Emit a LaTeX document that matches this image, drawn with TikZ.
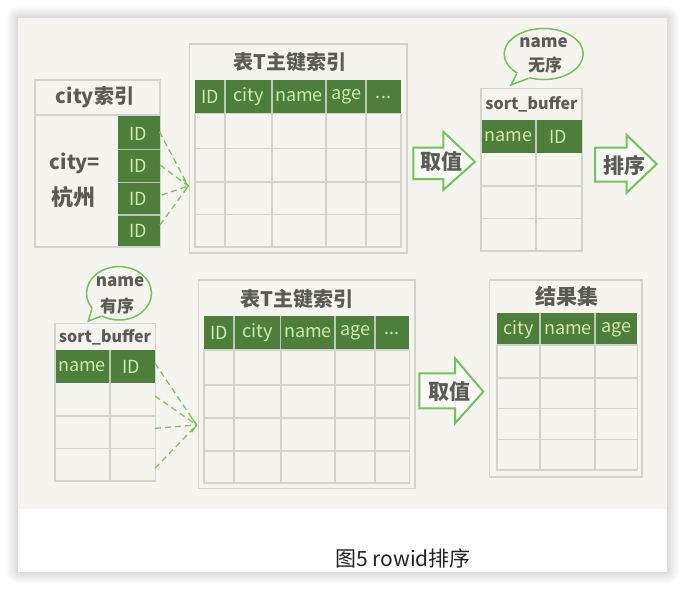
\documentclass[tikz,border=0pt]{standalone}
\usepackage{fontspec}
\setmainfont{Noto Sans CJK SC}
\usetikzlibrary{shapes.geometric,calc}
\definecolor{bg}{HTML}{F5F4EE}
\definecolor{gridc}{HTML}{D2D2CE}
\definecolor{hsepc}{HTML}{B9CDB0}
\definecolor{hdrg}{HTML}{4D7E3B}
\definecolor{hdrt}{HTML}{CDEDA8}
\definecolor{ttlc}{HTML}{5A5A56}
\definecolor{arrg}{HTML}{74C25A}
\definecolor{dashg}{HTML}{7CC55E}
\definecolor{capc}{HTML}{222222}
\begin{document}
\begin{tikzpicture}[x=0.5pt,y=-0.5pt,
  gline/.style={draw=gridc,line width=0.8pt},
  hsep/.style={draw=hsepc,line width=0.7pt},
  hdr/.style={fill=hdrg},
  hl/.style={text=hdrt,font=\fontsize{9}{9}\selectfont,inner sep=0pt},
  ttl/.style={text=ttlc,font=\bfseries\fontsize{10}{11}\selectfont,inner sep=0pt},
  arr/.style={draw=arrg,line width=1pt,fill=bg!50!white,line join=miter},
  lbl/.style={text=ttlc,font=\bfseries\fontsize{10.5}{11}\selectfont,inner sep=0pt},
  dsh/.style={draw=dashg,line width=0.65pt,dash pattern=on 3pt off 2pt},
  chev/.style={draw=dashg,line width=0.65pt},
  bub/.style={ellipse,draw=arrg,line width=0.75pt,fill=bg,inner sep=0pt},
  btxt/.style={text=ttlc,font=\bfseries\fontsize{8.5}{9}\selectfont,inner sep=0pt}
]
\useasboundingbox (0,0) rectangle (685,590);
\fill[white] (0,0) rectangle (685,590);
% soft shadow around the card
\foreach \d in {12,11,...,1}
  \fill[black,opacity=0.012,rounded corners=\d*0.5pt] (18.3-\d,18.3-\d) rectangle (666.7+\d,571.7+\d);
\fill[white] (18.3,18.3) rectangle (666.7,571.7);
\fill[bg] (18.3,18.3) rectangle (666.7,508.5);
\node[text=capc,font=\fontsize{10.5}{11}\selectfont,inner sep=0pt] (cap) at (403,558) {图5 rowid排序};

% ---------- city index ----------
\draw[gline] (35,80) rectangle (160,246.7);
\draw[gline] (35,115) -- (160,115);
\fill[hdrg] (118.3,115.5) rectangle (159.5,246.2);
\foreach \y in {149.3,182.3,215} \draw[hsep] (118.3,\y) -- (159.5,\y);
\node[ttl] (cityttl) at (95,96.7) {city索引};
\node[ttl] (cityeq) at (75,163.3) {city=};
\node[ttl,font=\bfseries\fontsize{11}{12}\selectfont] (hz) at (73.3,196.7) {杭州};
\node[hl] (cid1) at (138.5,133.5) {ID};
\node[hl] (cid2) at (138.5,166.3) {ID};
\node[hl] (cid3) at (138.5,199) {ID};
\node[hl] (cid4) at (138.5,231.3) {ID};
\coordinate (s1) at (159.5,131.7);
\coordinate (s2) at (160,165);
\coordinate (s3) at (161.7,195);
\coordinate (s4) at (160,225);
\coordinate (e1) at (188.3,186);
\foreach \s in {s1,s2,s3,s4} \draw[dsh] (\s) -- (e1);
\draw[chev] ($(e1)+(-5,-7)$) -- (e1) -- ($(e1)+(-5,7)$);

% ---------- table T top ----------
\draw[gline] (189.5,44) rectangle (407,253);
\node[ttl] (t1ttl) at (290,62) {表T主键索引};
\fill[hdrg] (195,80) rectangle (401,113.5);
\foreach \x in {225,272,326,366} {\draw[hsep] (\x,80) -- (\x,113.5); \draw[gline] (\x,113.5) -- (\x,247);}
\draw[gline] (195,113.5) rectangle (401,247);
\foreach \y in {148.5,181.7,214.3} \draw[gline] (195,\y) -- (401,\y);
\node[hl] (t1a) at (210,97) {ID};
\node[hl] (t1b) at (248.5,97) {city};
\node[hl] (t1c) at (299,97) {name};
\node[hl] (t1d) at (346,97) {age};
\node[hl] (t1e) at (383.5,97) {...};

% ---------- arrow 取值 top ----------
\draw[arr] (413.3,147.7) -- (443.3,147.7) -- (443.3,131.7) -- (475,161.7) -- (443.3,190) -- (443.3,179) -- (413.3,179) -- cycle;
\node[lbl] (qz1) at (441.7,162) {取值};

% ---------- bubble top ----------
\node[bub,minimum width=39.5pt,minimum height=25.5pt] (bub1) at (543.7,54) {};
\coordinate (tip1) at (511,85);
\fill[bg] (bub1.238) -- (tip1) -- (bub1.216) -- (bub1.center) -- cycle;
\draw[arrg,line width=0.75pt,line join=miter] (bub1.238) -- (tip1) -- (bub1.216);
\node[btxt] (bn1) at (543.5,43) {name};
\node[btxt] (bw1) at (545,64.5) {无序};

% ---------- sort_buffer top ----------
\draw[gline] (481,88.3) rectangle (582,251);
\node[ttl,font=\bfseries\fontsize{8}{8}\selectfont] (sb1) at (531.5,104.5) {sort\_buffer};
\fill[hdrg] (481.5,120) rectangle (581.5,153);
\draw[hsep] (536,120) -- (536,153);
\draw[gline] (536,153) -- (536,251);
\foreach \y in {186,218.5} \draw[gline] (481,\y) -- (582,\y);
\node[hl] (sb1a) at (508.5,137) {name};
\node[hl] (sb1b) at (558.5,137) {ID};

% ---------- arrow 排序 ----------
\draw[arr] (595,147.5) -- (626.7,147.5) -- (626.7,135) -- (656.7,164) -- (626.7,192.7) -- (626.7,181.7) -- (595,181.7) -- cycle;
\node[lbl] (px) at (624,165) {排序};

% ---------- bubble bottom ----------
\node[bub,minimum width=32.5pt,minimum height=26.7pt] (bub2) at (119,293.3) {};
\coordinate (tip2) at (88.3,321);
\fill[bg] (bub2.232) -- (tip2) -- (bub2.210) -- (bub2.center) -- cycle;
\draw[arrg,line width=0.75pt,line join=miter] (bub2.232) -- (tip2) -- (bub2.210);
\node[btxt] (bn2) at (120,282) {name};
\node[btxt] (bw2) at (117,306) {有序};

% ---------- sort_buffer bottom ----------
\draw[gline] (55,323.3) rectangle (155.5,481);
\node[ttl,font=\bfseries\fontsize{8}{8}\selectfont] (sb2) at (105,337) {sort\_buffer};
\fill[hdrg] (55.5,349.5) rectangle (155,383);
\draw[hsep] (110,349.5) -- (110,383);
\draw[gline] (110,383) -- (110,481);
\foreach \y in {416,448.5} \draw[gline] (55,\y) -- (155.5,\y);
\node[hl] (sb2a) at (82,367) {name};
\node[hl] (sb2b) at (131,367) {ID};
\coordinate (u1) at (155,363.3);
\coordinate (u2) at (155,396);
\coordinate (u3) at (155,428.3);
\coordinate (u4) at (155,468.3);
\coordinate (e2) at (196.7,425);
\foreach \s in {u1,u2,u3,u4} \draw[dsh] (\s) -- (e2);
\draw[chev] ($(e2)+(-5,-7)$) -- (e2) -- ($(e2)+(-5,7)$);

% ---------- table T bottom ----------
\draw[gline] (198.3,280) rectangle (415,488.3);
\node[ttl] (t2ttl) at (297,298.5) {表T主键索引};
\fill[hdrg] (204,316) rectangle (409.3,350);
\foreach \x in {234,280.7,335,375} {\draw[hsep] (\x,316) -- (\x,350); \draw[gline] (\x,350) -- (\x,482.7);}
\draw[gline] (204,350) rectangle (409.3,482.7);
\foreach \y in {385,417.7,451} \draw[gline] (204,\y) -- (409.3,\y);
\node[hl] (t2a) at (219.3,333) {ID};
\node[hl] (t2b) at (257.5,333) {city};
\node[hl] (t2c) at (308,333) {name};
\node[hl] (t2d) at (355,333) {age};
\node[hl] (t2e) at (392,333) {...};

% ---------- arrow 取值 bottom ----------
\draw[arr] (419.3,373.3) -- (455,373.3) -- (455,358.3) -- (483.3,391.7) -- (455,423.3) -- (455,408.3) -- (419.3,408.3) -- cycle;
\node[lbl] (qz2) at (449,392) {取值};

% ---------- result set ----------
\draw[gline] (489.3,280) rectangle (641.7,476.7);
\node[ttl,font=\bfseries\fontsize{10.5}{11}\selectfont] (rs) at (566.7,296.5) {结果集};
\fill[hdrg] (496.7,312.7) rectangle (637.3,345);
\foreach \x in {540,595} {\draw[hsep] (\x,312.7) -- (\x,345); \draw[gline] (\x,345) -- (\x,470);}
\draw[gline] (496.7,345) rectangle (637.3,470);
\foreach \y in {377.7,408.3,439.3} \draw[gline] (496.7,\y) -- (637.3,\y);
\node[hl] (rsa) at (518.3,330) {city};
\node[hl] (rsb) at (568,330) {name};
\node[hl] (rsc) at (616,330) {age};
\end{tikzpicture}
\end{document}
